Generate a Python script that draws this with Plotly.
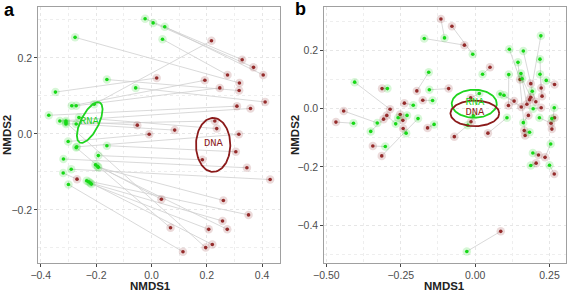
import numpy as np
import plotly.graph_objects as go

# ---------------- Panel a : paired samples (RNA green, DNA red) ----------------
a_rna_x = [-0.023, 0.006, 0.048, 0.040, -0.276, -0.207, -0.347, -0.288, -0.272, -0.161, -0.057,
           -0.371, -0.331, -0.309, -0.309, -0.262, -0.272, -0.301, -0.270, -0.161, -0.192, -0.318,
           -0.290, -0.319, -0.202, -0.192, -0.234, -0.221, -0.272, -0.217, -0.195, -0.227, -0.309, -0.300]
a_rna_y = [0.303, 0.292, 0.282, 0.249, 0.254, 0.078, 0.110, 0.074, 0.074, 0.143, 0.121,
           0.049, 0.034, 0.034, 0.026, 0.043, 0.026, -0.020, -0.034, -0.031, -0.057, -0.066,
           -0.093, -0.103, -0.081, -0.088, -0.123, -0.129, -0.036, -0.132, -0.085, -0.126, 0.030, -0.133]
a_dna_x = [0.328, 0.369, 0.404, 0.275, 0.318, 0.217, 0.019, 0.193, 0.247, 0.317, 0.411,
           0.309, 0.358, -0.051, 0.229, 0.236, 0.084, -0.008, 0.316, 0.305, 0.184, 0.345,
           0.429, -0.269, 0.036, 0.260, 0.351, 0.257, 0.069, 0.207, 0.274, 0.220, 0.196, 0.114]
a_dna_y = [0.195, 0.175, 0.155, 0.155, 0.134, 0.245, 0.147, 0.141, 0.121, 0.114, 0.084,
           0.073, 0.067, 0.023, 0.034, 0.014, 0.010, -0.001, -0.001, -0.047, -0.068, -0.089,
           -0.120, -0.119, -0.172, -0.175, -0.213, -0.229, -0.247, -0.251, -0.251, -0.291, -0.299, -0.310]

# ---------------- Panel b ----------------
b_rna_x = [-0.103, -0.008, -0.171, 0.025, -0.156, -0.154, -0.405, -0.295, -0.143, -0.208, -0.329,
           -0.409, -0.351, -0.267, -0.229, -0.259, -0.232, -0.138, -0.302, -0.192, 0.014, -0.006,
           -0.025, 0.107, -0.028, 0.115, 0.162, 0.221, 0.144, 0.218, 0.154, 0.158, 0.113, 0.218,
           0.239, 0.192, 0.084, 0.097, 0.195, 0.266, 0.216, 0.258, 0.162, 0.183, 0.254, 0.194,
           0.187, 0.250]
b_rna_y = [0.243, 0.187, 0.241, 0.118, 0.125, 0.065, 0.091, 0.069, 0.028, 0.012, -0.049,
           -0.050, -0.078, -0.052, -0.023, -0.031, -0.084, -0.054, -0.130, -0.034, 0.052, -0.024,
           -0.057, -0.031, -0.490, 0.204, 0.198, 0.250, 0.159, 0.170, 0.121, 0.103, 0.117, 0.118,
           0.097, 0.060, 0.050, 0.046, 0.000, 0.003, -0.031, -0.034, -0.048, -0.081, -0.121, -0.152,
           -0.195, -0.194]
b_dna_x = [-0.115, -0.078, -0.036, 0.050, -0.196, -0.089, -0.286, -0.313, -0.176, -0.238, -0.442,
           -0.468, -0.308, -0.297, -0.252, -0.243, -0.242, -0.160, -0.344, -0.314, -0.015, -0.014,
           -0.070, 0.043, 0.086, 0.151, 0.187, 0.183, 0.168, 0.222, 0.174, 0.187, 0.112, 0.225,
           0.267, 0.204, 0.131, 0.155, 0.222, 0.258, 0.255, 0.267, 0.179, 0.165, 0.235, 0.213,
           0.205, 0.266]
b_dna_y = [0.308, 0.283, 0.218, 0.142, 0.061, 0.069, -0.002, 0.069, 0.029, 0.019, -0.008,
           -0.046, -0.036, -0.023, -0.020, -0.040, -0.068, -0.066, -0.128, -0.162, 0.037, -0.045,
           -0.096, -0.084, -0.421, 0.100, 0.086, 0.031, -0.092, 0.071, 0.015, 0.039, 0.011, 0.043,
           0.083, 0.024, 0.026, 0.006, 0.003, -0.070, -0.050, -0.031, -0.023, -0.075, -0.167, -0.159,
           -0.187, -0.224]

# Ellipses: centre x, centre y, half-axis vector 1 (x, y), half-axis vector 2 (x, y)
a_rna_ellipse = [-0.223, 0.030, 0.0362, 0.0526, 0.0289, -0.0105]
a_dna_ellipse = [0.223, -0.029, 0.0, 0.071, 0.062, 0.0]
b_rna_ellipse = [-0.003, 0.017, 0.0757, 0.0, 0.0, 0.048]
b_dna_ellipse = [-0.001, -0.016, 0.082, 0.0, 0.0, 0.044]

# Group labels: (text, x, y)
a_labels = [("RNA", -0.224, 0.032), ("DNA", 0.224, -0.025)]
b_labels = [("RNA", -0.001, 0.022), ("DNA", -0.001, -0.012)]

# Axis titles
x_title = "NMDS1"
y_title = "NMDS2"
panel_tags = ["a", "b"]

GREEN = "#16d916"
GREEN_HALO = "rgba(0,205,0,0.16)"
RED = "#952b2b"
RED_HALO = "rgba(139,35,35,0.17)"
ELL_GREEN = "#1fd41f"
ELL_RED = "#8b1a1a"
LINE = "#cfcfcf"


def segments(x1, y1, x2, y2):
    xs, ys = [], []
    for a, b, c, d in zip(x1, y1, x2, y2):
        xs += [a, c, None]
        ys += [b, d, None]
    return xs, ys


def ellipse(p):
    t = np.linspace(0, 2 * np.pi, 120)
    cx, cy, ax, ay, bx, by = p
    return cx + np.cos(t) * ax + np.sin(t) * bx, cy + np.cos(t) * ay + np.sin(t) * by


fig = go.Figure()


def add_panel(rx, ry, dx, dy, ell_r, ell_d, labels, xa, ya):
    sx, sy = segments(rx, ry, dx, dy)
    fig.add_trace(go.Scatter(x=sx, y=sy, mode="lines", line=dict(color=LINE, width=0.8),
                             xaxis=xa, yaxis=ya, hoverinfo="skip"))
    for xs, ys, halo, col in [(dx, dy, RED_HALO, RED), (rx, ry, GREEN_HALO, GREEN)]:
        fig.add_trace(go.Scatter(x=xs, y=ys, mode="markers",
                                 marker=dict(size=8.5, color=halo, line=dict(width=0)),
                                 xaxis=xa, yaxis=ya))
        fig.add_trace(go.Scatter(x=xs, y=ys, mode="markers",
                                 marker=dict(size=3.6, color=col, line=dict(width=0)),
                                 xaxis=xa, yaxis=ya))
    for p, col in [(ell_r, ELL_GREEN), (ell_d, ELL_RED)]:
        ex, ey = ellipse(p)
        fig.add_trace(go.Scatter(x=ex, y=ey, mode="lines", line=dict(color=col, width=1.8),
                                 xaxis=xa, yaxis=ya, hoverinfo="skip"))
    for (txt, x, y), col in zip(labels, [ELL_GREEN, ELL_RED]):
        fig.add_trace(go.Scatter(x=[x], y=[y], mode="text", text=[txt],
                                 textfont=dict(family="Liberation Mono", size=10.5, color=col),
                                 xaxis=xa, yaxis=ya))


add_panel(a_rna_x, a_rna_y, a_dna_x, a_dna_y, a_rna_ellipse, a_dna_ellipse, a_labels, "x", "y")
add_panel(b_rna_x, b_rna_y, b_dna_x, b_dna_y, b_rna_ellipse, b_dna_ellipse, b_labels, "x2", "y2")

tickfont = dict(family="Liberation Sans", size=10.5, color="#4d4d4d")
titlefont = dict(family="Liberation Sans", size=11.5, color="#222222")
grid = dict(showgrid=True, gridcolor="#e6e6e6", griddash="dot", gridwidth=1)
common = dict(zeroline=False, showline=True, mirror=True, linecolor="#a0a0a0", linewidth=1,
              ticks="outside", ticklen=3, tickcolor="#444444", tickfont=tickfont,
              automargin=False, **grid)
minor_kw = dict(showgrid=True, gridcolor="#eeeeee", griddash="dot")


def paper_text(txt, x, y, font, angle=0):
    return dict(text=f"<b>{txt}</b>", x=x, y=y, xref="paper", yref="paper", showarrow=False,
                font=font, xanchor="center", yanchor="middle", textangle=angle)


tagfont = dict(family="Liberation Sans", size=18, color="black")
annotations = [
    paper_text(panel_tags[0], 0.016, 0.965, tagfont),
    paper_text(panel_tags[1], 0.530, 0.968, tagfont),
    paper_text(x_title, 0.2663, 0.021, titlefont),
    paper_text(x_title, 0.7848, 0.021, titlefont),
    paper_text(y_title, 0.0125, 0.538, titlefont, -90),
    paper_text(y_title, 0.5205, 0.538, titlefont, -90),
]

fig.update_layout(
    width=567, height=292, showlegend=False,
    margin=dict(l=0, r=0, t=0, b=0),
    plot_bgcolor="white", paper_bgcolor="white",
    xaxis=dict(domain=[0.0675, 0.494], range=[-0.409, 0.465], dtick=0.2, tick0=0, tickformat=".1f",
               minor=dict(dtick=0.1, **minor_kw), anchor="y", **common),
    yaxis=dict(domain=[0.1, 0.975], range=[-0.339, 0.333], dtick=0.2, tick0=0, tickformat=".1f",
               minor=dict(dtick=0.1, **minor_kw), anchor="x", **common),
    xaxis2=dict(domain=[0.572, 0.998], range=[-0.507, 0.305], dtick=0.25, tick0=0, tickformat=".2f",
                minor=dict(dtick=0.125, **minor_kw), anchor="y2", **common),
    yaxis2=dict(domain=[0.1, 0.975], range=[-0.529, 0.348], dtick=0.2, tick0=0, tickformat=".1f",
                minor=dict(dtick=0.1, **minor_kw), anchor="x2", **common),
    annotations=annotations,
)

fig.write_html("out.html", config={"displayModeBar": False},
               post_script="document.body.style.margin='0';document.body.style.overflow='hidden';")
